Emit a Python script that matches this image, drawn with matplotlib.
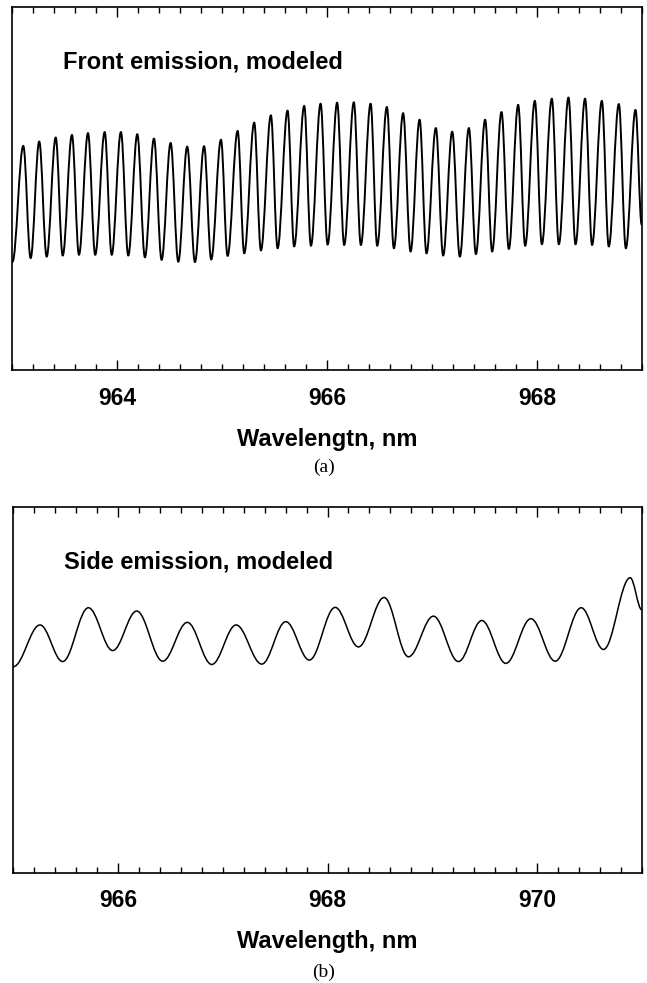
import matplotlib
matplotlib.use("Agg")
import matplotlib.pyplot as plt
from matplotlib.path import Path
from matplotlib.patches import PathPatch
from matplotlib.ticker import MultipleLocator

# ---- data: fringe extrema (wavelength in nm, relative intensity) ----
front_wavelength = [963.000, 963.103, 963.173, 963.255, 963.326, 963.412, 963.479, 963.567,
                    963.634, 963.720, 963.789, 963.879, 963.946, 964.034, 964.104, 964.190,
                    964.263, 964.349, 964.422, 964.508, 964.581, 964.666, 964.740, 964.827,
                    964.895, 964.988, 965.051, 965.147, 965.210, 965.305, 965.369, 965.464,
                    965.528, 965.623, 965.686, 965.782, 965.846, 965.938, 966.005, 966.096,
                    966.163, 966.255, 966.322, 966.415, 966.478, 966.570, 966.637, 966.725,
                    966.796, 966.882, 966.948, 967.037, 967.107, 967.193, 967.266, 967.352,
                    967.419, 967.507, 967.574, 967.663, 967.733, 967.822, 967.889, 967.981,
                    968.048, 968.143, 968.210, 968.302, 968.369, 968.460, 968.527, 968.620,
                    968.686, 968.782, 968.849, 968.941, 969.000]
front_intensity = [0.298, 0.617, 0.308, 0.629, 0.312, 0.640, 0.315, 0.647,
                   0.317, 0.652, 0.317, 0.655, 0.317, 0.655, 0.315, 0.649,
                   0.310, 0.637, 0.303, 0.625, 0.298, 0.615, 0.297, 0.616,
                   0.304, 0.634, 0.314, 0.658, 0.321, 0.681, 0.329, 0.701,
                   0.335, 0.714, 0.340, 0.727, 0.342, 0.733, 0.345, 0.736,
                   0.344, 0.737, 0.344, 0.733, 0.342, 0.724, 0.335, 0.707,
                   0.326, 0.689, 0.321, 0.666, 0.315, 0.656, 0.312, 0.666,
                   0.319, 0.689, 0.326, 0.710, 0.333, 0.730, 0.342, 0.741,
                   0.346, 0.747, 0.346, 0.750, 0.346, 0.747, 0.344, 0.741,
                   0.340, 0.732, 0.335, 0.716, 0.400]

side_wavelength = [965.003, 965.258, 965.474, 965.719, 965.951, 966.180, 966.428, 966.663,
                   966.896, 967.128, 967.373, 967.602, 967.827, 968.073, 968.295, 968.540,
                   968.772, 969.010, 969.249, 969.472, 969.701, 969.940, 970.172, 970.420,
                   970.633, 970.887, 970.999]
side_intensity = [0.563, 0.677, 0.577, 0.724, 0.607, 0.715, 0.578, 0.684,
                  0.569, 0.677, 0.570, 0.686, 0.581, 0.725, 0.617, 0.752,
                  0.590, 0.701, 0.577, 0.689, 0.572, 0.694, 0.578, 0.724,
                  0.610, 0.806, 0.718]

front_title = "Front emission, modeled"
side_title = "Side emission, modeled"
front_xlabel = "Wavelengtn, nm"
side_xlabel = "Wavelength, nm"
front_ticks = [964, 966, 968]
side_ticks = [966, 968, 970]

SANS = ["Liberation Sans", "DejaVu Sans"]
SERIF = ["Liberation Serif", "DejaVu Serif"]


def fringe_patch(xs, ys, lw):
    """Smooth curve through successive extrema (horizontal tangent at each extremum)."""
    k = 0.3642
    verts = [(xs[0], ys[0])]
    codes = [Path.MOVETO]
    for i in range(len(xs) - 1):
        dx = xs[i + 1] - xs[i]
        verts += [(xs[i] + k * dx, ys[i]), (xs[i + 1] - k * dx, ys[i + 1]), (xs[i + 1], ys[i + 1])]
        codes += [Path.CURVE4] * 3
    return PathPatch(Path(verts, codes), facecolor="none", edgecolor="black", lw=lw,
                     capstyle="round", joinstyle="round")


fig = plt.figure(figsize=(6.47, 9.83), dpi=100)
ax_a = fig.add_axes([0.0193, 0.6236, 0.9725, 0.3696])
ax_b = fig.add_axes([0.0201, 0.1122, 0.9722, 0.3723])


def style(ax, xs, ys, xlim, ticks, title, xlabel, lw, tag, tag_y):
    ax.add_patch(fringe_patch(xs, ys, lw))
    ax.set_xlim(*xlim)
    ax.set_ylim(0, 1)
    ax.set_yticks([])
    ax.set_xticks(ticks)
    ax.set_xticklabels([str(t) for t in ticks], fontfamily=SANS, fontweight="bold", fontsize=16.5)
    ax.xaxis.set_minor_locator(MultipleLocator(0.2))
    ax.tick_params(axis="x", which="major", direction="in", length=7.5, width=1.0,
                   top=True, bottom=True, pad=12)
    ax.tick_params(axis="x", which="minor", direction="in", length=4, width=1.0,
                   top=True, bottom=True)
    for s in ax.spines.values():
        s.set_linewidth(1.2)
    ax.text(0.081, 0.83, title, transform=ax.transAxes, fontfamily=SANS,
            fontweight="bold", fontsize=17, ha="left", va="baseline")
    ax.set_xlabel(xlabel, fontfamily=SANS, fontweight="bold", fontsize=17, labelpad=13)
    fig.text(0.5, tag_y, tag, fontfamily=SERIF, fontsize=14, ha="center", va="center")


style(ax_a, front_wavelength, front_intensity, (963, 969), front_ticks, front_title,
      front_xlabel, 1.4, "(a)", 1 - 467 / 983)
style(ax_b, side_wavelength, side_intensity, (965, 971), side_ticks, side_title,
      side_xlabel, 1.1, "(b)", 1 - 972 / 983)

fig.savefig("out.png", dpi=100)
